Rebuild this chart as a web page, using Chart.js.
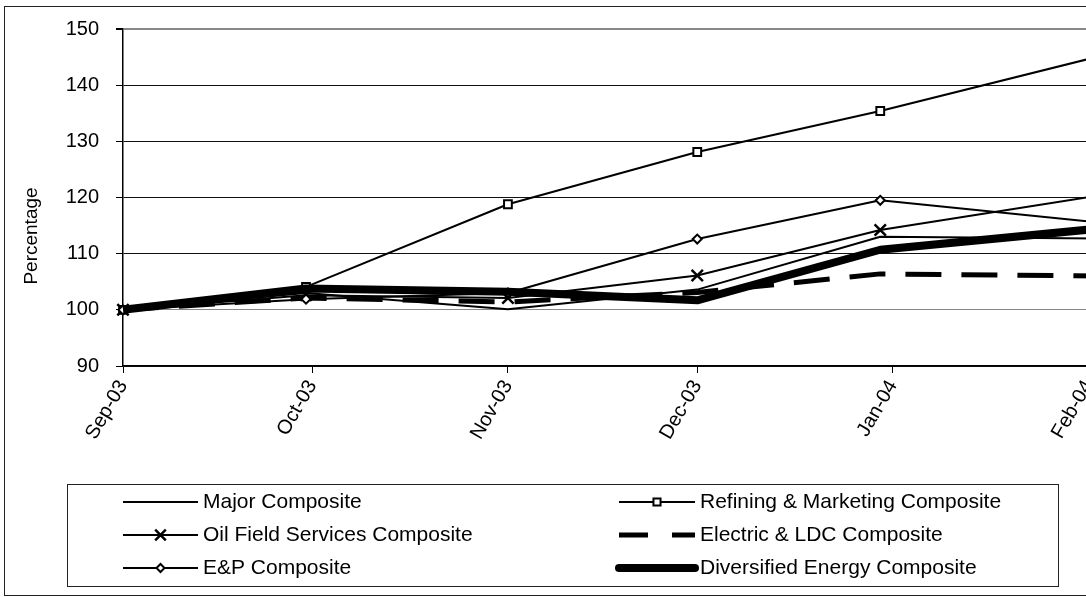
<!DOCTYPE html>
<html>
<head>
<meta charset="utf-8">
<title>Energy Composites</title>
<script src="https://cdn.jsdelivr.net/npm/chart.js@4.4.1/dist/chart.umd.min.js"></script>
<style>
  html, body { margin: 0; padding: 0; background: #fff; overflow: hidden; }
  canvas { display: block; }
</style>
</head>
<body>
<canvas id="chart" width="1099" height="597"></canvas>
<script>
// Date axis: values are days counted from 1 Sep 2003
const monthLabels = ['Sep-03', 'Oct-03', 'Nov-03', 'Dec-03', 'Jan-04', 'Feb-04'];
const monthTickDays = [0, 30, 61, 91, 122, 153];      // first day of each month
const observationDays = [0, 29, 61, 91, 120, 156];    // dates of the index readings

// Index values (start = 100)
const majorComposite    = [100, 103.0, 100.1, 103.6, 113.0, 112.7];
const refiningMarketing = [100, 104.1, 118.8, 128.1, 135.4, 145.5];
const oilFieldServices  = [100, 102.6, 102.1, 106.1, 114.2, 120.6];
const electricLdc       = [100, 102.1, 101.4, 103.1, 106.4, 106.0];
const explorationProd   = [100, 101.9, 103.0, 112.6, 119.5, 115.4];
const diversifiedEnergy = [100, 103.8, 103.2, 101.7, 110.7, 114.6];

const yTicks = [90, 100, 110, 120, 130, 140, 150];

const FONT = 'Liberation Sans, Arial, sans-serif';

const series = [
  { label: 'Major Composite', values: majorComposite, width: 2, dash: [], marker: null },
  { label: 'Refining & Marketing Composite', values: refiningMarketing, width: 2, dash: [], marker: 'rect' },
  { label: 'Oil Field Services Composite', values: oilFieldServices, width: 2, dash: [], marker: 'crossRot' },
  { label: 'Electric & LDC Composite', values: electricLdc, width: 5, dash: [36, 20], marker: null },
  { label: 'E&P Composite', values: explorationProd, width: 2, dash: [], marker: 'rectRot' },
  { label: 'Diversified Energy Composite', values: diversifiedEnergy, width: 8, dash: [], marker: null }
];

const markerRadius = { rect: 5.5, crossRot: 8, rectRot: 4.5 };
const markerStroke = { rect: 2, crossRot: 2.5, rectRot: 2 };

const datasets = series.map((s, i) => ({
  label: s.label,
  data: observationDays.map((d, j) => ({ x: d, y: s.values[j] })),
  borderColor: '#000',
  backgroundColor: '#000',
  borderWidth: s.width,
  borderDash: s.dash,
  borderCapStyle: 'butt',
  borderJoinStyle: 'round',
  pointStyle: s.marker || 'circle',
  pointRadius: s.marker ? markerRadius[s.marker] : 0,
  pointHoverRadius: s.marker ? markerRadius[s.marker] : 0,
  pointBorderWidth: s.marker ? markerStroke[s.marker] : 0,
  pointBorderColor: '#000',
  pointBackgroundColor: '#fff',
  tension: 0,
  clip: false,
  order: series.length - 1 - i
}));

// Legend marker drawn in the same style as the data points
function drawMarker(ctx, style, x, y, r) {
  ctx.save();
  ctx.lineWidth = markerStroke[style];
  ctx.strokeStyle = '#000';
  ctx.fillStyle = '#fff';
  ctx.beginPath();
  if (style === 'rect') {
    const h = r * Math.SQRT1_2;
    ctx.rect(x - h, y - h, 2 * h, 2 * h);
    ctx.fill(); ctx.stroke();
  } else if (style === 'rectRot') {
    ctx.moveTo(x - r, y); ctx.lineTo(x, y - r); ctx.lineTo(x + r, y); ctx.lineTo(x, y + r);
    ctx.closePath();
    ctx.fill(); ctx.stroke();
  } else if (style === 'crossRot') {
    const h = r * Math.SQRT1_2;
    ctx.moveTo(x - h, y - h); ctx.lineTo(x + h, y + h);
    ctx.moveTo(x + h, y - h); ctx.lineTo(x - h, y + h);
    ctx.stroke();
  }
  ctx.restore();
}

const framePlugin = {
  id: 'frame',
  beforeDraw(chart) {
    const ctx = chart.ctx;
    ctx.save();
    ctx.fillStyle = '#fff';
    ctx.fillRect(0, 0, chart.width, chart.height);
    ctx.strokeStyle = '#222';
    ctx.lineWidth = 1;
    ctx.strokeRect(4.5, 6.5, 1200, 589);
    ctx.restore();
  },
  afterDraw(chart) {
    const ctx = chart.ctx;
    ctx.save();
    // y-axis title
    ctx.translate(32, 236);
    ctx.rotate(-Math.PI / 2);
    ctx.fillStyle = '#000';
    ctx.font = '19px ' + FONT;
    ctx.textAlign = 'center';
    ctx.textBaseline = 'middle';
    ctx.fillText('Percentage', 0, 0);
    ctx.restore();

    // legend box, two columns
    ctx.save();
    ctx.strokeStyle = '#222';
    ctx.lineWidth = 1;
    ctx.strokeRect(67.5, 484.5, 991, 102);
    const cols = [{ x0: 123, x1: 198, tx: 203 }, { x0: 619, x1: 695, tx: 700 }];
    const rows = [502, 535, 568];
    ctx.font = '21px ' + FONT;
    ctx.textBaseline = 'middle';
    ctx.textAlign = 'left';
    series.forEach((s, i) => {
      const c = cols[i % 2];
      const y = rows[Math.floor(i / 2)];
      ctx.save();
      ctx.strokeStyle = '#000';
      ctx.lineWidth = s.width;
      ctx.lineCap = s.width >= 7 ? 'round' : 'butt';
      if (s.dash.length) ctx.setLineDash([29, 24]);
      ctx.beginPath();
      ctx.moveTo(c.x0, y);
      ctx.lineTo(c.x1, y);
      ctx.stroke();
      ctx.restore();
      if (s.marker) drawMarker(ctx, s.marker, (c.x0 + c.x1) / 2, y, markerRadius[s.marker] - 0.5);
      ctx.fillStyle = '#000';
      ctx.fillText(s.label, c.tx, y);
    });
    ctx.restore();
  }
};

new Chart(document.getElementById('chart'), {
  type: 'line',
  data: { datasets },
  plugins: [framePlugin],
  options: {
    responsive: false,
    animation: false,
    devicePixelRatio: 1,
    events: [],
    layout: { padding: { left: 0, top: 24, right: 2, bottom: 121 } },
    plugins: { legend: { display: false }, tooltip: { enabled: false } },
    scales: {
      x: {
        type: 'linear',
        min: monthTickDays[0],
        max: monthTickDays[monthTickDays.length - 1],
        afterBuildTicks: (sc) => { sc.ticks = monthTickDays.map(v => ({ value: v })); },
        afterFit: (sc) => { sc.height = 110; sc.paddingLeft = 0; sc.paddingRight = 0; },
        ticks: {
          autoSkip: false,
          minRotation: 60,
          maxRotation: 60,
          padding: 3,
          color: '#000',
          font: { family: FONT, size: 20 },
          callback: (v) => { const k = monthTickDays.indexOf(v); return k >= 0 ? monthLabels[k] : ''; }
        },
        grid: { drawOnChartArea: false, tickLength: 7, tickColor: '#000', tickWidth: 1 },
        border: { color: '#000', width: 1.5 }
      },
      y: {
        min: yTicks[0],
        max: yTicks[yTicks.length - 1],
        afterBuildTicks: (sc) => { sc.ticks = yTicks.map(v => ({ value: v })); },
        afterFit: (sc) => { sc.width = 123; },
        ticks: {
          padding: 17,
          color: '#000',
          font: { family: FONT, size: 20 }
        },
        grid: {
          color: (c) => (c.tick && (c.tick.value === 150 || c.tick.value === 100)) ? '#888' : '#111',
          lineWidth: (c) => (c.tick && c.tick.value === 150) ? 2 : 1,
          tickLength: 7,
          tickColor: '#000'
        },
        border: { color: '#000', width: 1.5 }
      }
    }
  }
});
</script>
</body>
</html>
